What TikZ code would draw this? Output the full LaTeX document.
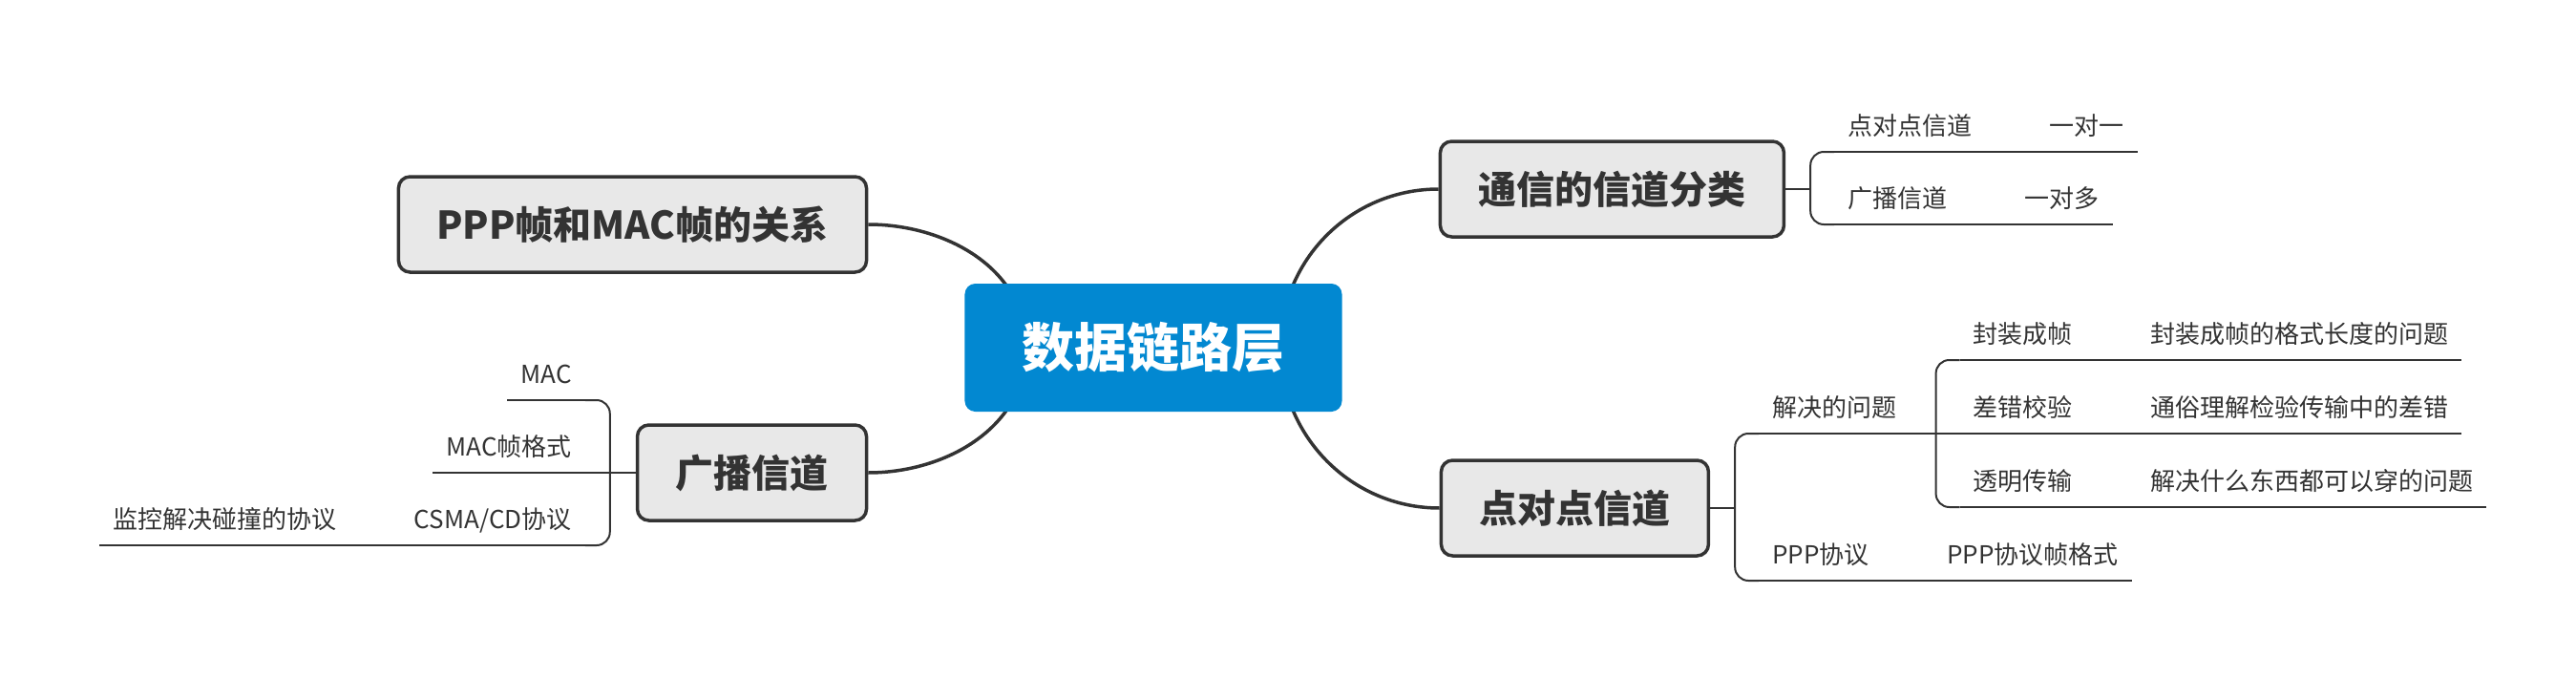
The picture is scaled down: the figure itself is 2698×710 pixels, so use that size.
\documentclass[tikz,border=0pt]{standalone}
\usepackage{fontspec}
\setmainfont{Noto Sans CJK SC}
\usetikzlibrary{positioning}
\usetikzlibrary{positioning, backgrounds}
\definecolor{rootblue}{HTML}{0288D1}
\definecolor{boxgray}{HTML}{E8E8E8}
\definecolor{linegray}{HTML}{333333}
\tikzstyle{root} = [rectangle, rounded corners=11pt, fill=rootblue, text=white, font=\fontsize{55}{66}\selectfont\bfseries, minimum height=134pt, inner xsep=60pt]
\tikzstyle{topic} = [rectangle, draw=linegray, line width=3.5pt, rounded corners=12pt, fill=boxgray, text=linegray, font=\fontsize{40}{48}\selectfont\bfseries, minimum height=100pt, inner xsep=40pt]
\tikzstyle{leaf} = [inner xsep=14pt, inner ysep=0pt, text height=22pt, text depth=17pt, text=linegray, font=\fontsize{26}{31}\selectfont]
\tikzstyle{branch} = [line width=3.5pt, draw=linegray]
\tikzstyle{twig} = [line width=2pt, draw=linegray]

\begin{document}
\begin{tikzpicture}
    \useasboundingbox (-1208pt,364pt) rectangle (1490pt,-346pt);

    % Nodes
    \node[root] (main) {数据链路层};
    \node[topic, left=101pt of main, yshift=129pt] (rel) {PPP帧和MAC帧的关系};
    \node[topic, left=101pt of main, yshift=-131pt] (bc) {广播信道};
    \node[topic, right=101pt of main, yshift=166pt] (cls) {通信的信道分类};
    \node[topic, right=102pt of main, yshift=-168pt] (p2p) {点对点信道};
    \coordinate[left=133pt of main.center] (hubL);
    \coordinate[right=133pt of main.center] (hubR);

    % Leaves: channel classes
    \coordinate[right=26pt of cls.east] (clsfork);
    \node[leaf, above right=39pt and 51pt of cls.east] (clsA) {点对点信道};
    \node[leaf, right=53pt of clsA] (clsA1) {一对一};
    \node[leaf, above right=-37pt and 51pt of cls.east] (clsB) {广播信道};
    \node[leaf, right=53pt of clsB] (clsB1) {一对多};

    % Leaves: point to point
    \coordinate[right=26pt of p2p.east] (p2pfork);
    \node[leaf, above right=78pt and 51pt of p2p.east] (solve) {解决的问题};
    \coordinate[right=27pt of solve.south east] (solvefork);
    \node[leaf, above right=77pt and 52pt of solve.south east] (frame) {封装成帧};
    \node[leaf, right=53pt of frame] (frame1) {封装成帧的格式长度的问题};
    \node[leaf, above right=0pt and 52pt of solve.south east] (err) {差错校验};
    \node[leaf, right=53pt of err] (err1) {通俗理解检验传输中的差错};
    \node[leaf, above right=-77pt and 52pt of solve.south east] (trans) {透明传输};
    \node[leaf, right=53pt of trans] (trans1) {解决什么东西都可以穿的问题};
    \node[leaf, above right=-76pt and 51pt of p2p.east] (ppp) {PPP协议};
    \node[leaf, right=53pt of ppp] (ppp1) {PPP协议帧格式};

    % Leaves: broadcast
    \coordinate[left=27pt of bc.west] (bcfork);
    \node[leaf, above left=76pt and 53pt of bc.west] (mac) {MAC};
    \node[leaf, above left=0pt and 53pt of bc.west] (macfmt) {MAC帧格式};
    \node[leaf, above left=-76pt and 53pt of bc.west] (csma) {CSMA/CD协议};
    \node[leaf, left=53pt of csma] (csma1) {监控解决碰撞的协议};

    % Edges
    \begin{scope}[on background layer]
    \draw[branch] (rel.east) to[out=0, in=90] (hubL);
    \draw[branch] (bc.east) to[out=0, in=-90] (hubL);
    \draw[branch] (cls.west) to[out=180, in=90] (hubR);
    \draw[branch] (p2p.west) to[out=180, in=-90] (hubR);

    \draw[twig] (cls.east) -- (clsfork);
    \draw[twig, rounded corners=14pt] (clsA.south west) -| (clsfork) |- (clsB.south west);
    \draw[twig] (clsA.south west) -- (clsA1.south east);
    \draw[twig] (clsB.south west) -- (clsB1.south east);

    \draw[twig] (p2p.east) -- (p2pfork);
    \draw[twig, rounded corners=14pt] (solve.south west) -| (p2pfork) |- (ppp.south west);
    \draw[twig] (solve.south west) -- (err1.south east);
    \draw[twig, rounded corners=14pt] (frame.south west) -| (solvefork) |- (trans.south west);
    \draw[twig] (frame.south west) -- (frame1.south east);
    \draw[twig] (trans.south west) -- (trans1.south east);
    \draw[twig] (ppp.south west) -- (ppp1.south east);

    \draw[twig] (bc.west) -- (macfmt.south west);
    \draw[twig, rounded corners=14pt] (mac.south east) -| (bcfork) |- (csma.south east);
    \draw[twig] (mac.south west) -- (mac.south east);
    \draw[twig] (csma1.south west) -- (csma.south east);
    \end{scope}
\end{tikzpicture}
\end{document}
